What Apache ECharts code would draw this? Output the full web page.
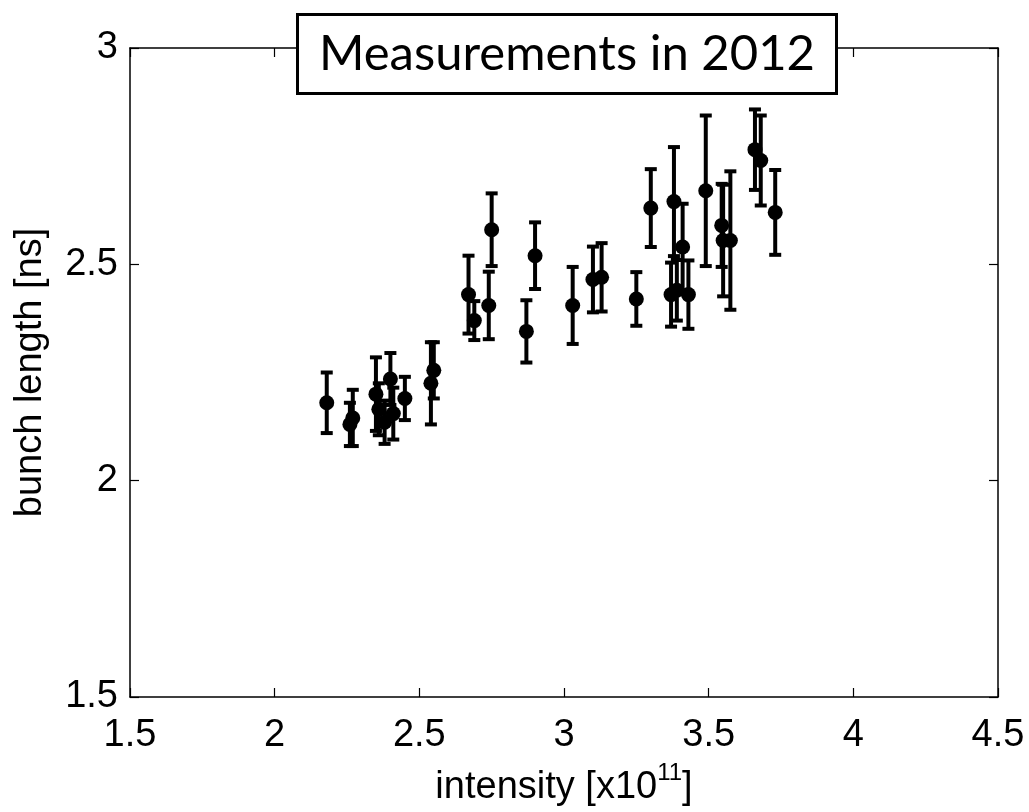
<!DOCTYPE html>
<html>
<head>
<meta charset="utf-8">
<script src="https://cdn.jsdelivr.net/npm/echarts@6/dist/echarts.min.js"></script>
<style>html,body{margin:0;padding:0;background:#fff;}#c{width:1029px;height:812px;}</style>
</head>
<body>
<div id="c"></div>
<script>
// intensity [x10^11]
const intensity = [2.18, 2.26, 2.27, 2.35, 2.36, 2.38, 2.40, 2.41, 2.45, 2.54, 2.55,
  2.67, 2.69, 2.74, 2.75, 2.87, 2.90, 3.03, 3.10, 3.13, 3.25, 3.30, 3.37, 3.38,
  3.39, 3.41, 3.43, 3.49, 3.545, 3.55, 3.575, 3.66, 3.68, 3.73];
// bunch length [ns]
const bunchLength = [2.18, 2.13, 2.145, 2.20, 2.165, 2.135, 2.235, 2.155, 2.19, 2.225, 2.255,
  2.43, 2.37, 2.405, 2.58, 2.345, 2.52, 2.405, 2.465, 2.47, 2.42, 2.63, 2.43, 2.645,
  2.44, 2.54, 2.43, 2.67, 2.59, 2.555, 2.555, 2.765, 2.74, 2.62];
// error (half length of error bar) [ns]
const bunchErr = [0.07, 0.05, 0.065, 0.085, 0.06, 0.05, 0.06, 0.06, 0.05, 0.095, 0.065,
  0.09, 0.045, 0.078, 0.084, 0.072, 0.077, 0.089, 0.076, 0.079, 0.062, 0.09, 0.074, 0.126,
  0.07, 0.1, 0.079, 0.174, 0.096, 0.129, 0.16, 0.093, 0.104, 0.098];
const xTicks = [1.5, 2, 2.5, 3, 3.5, 4, 4.5];
const yTicks = [1.5, 2, 2.5, 3];
const titleText = 'Measurements in 2012';

const pts = intensity.map((x, i) => [x, bunchLength[i], bunchErr[i]]);

const chart = echarts.init(document.getElementById('c'), null, {renderer: 'canvas'});
const axisFont = 'Liberation Sans';
const lbl = v => String(v);
chart.setOption({
  animation: false,
  backgroundColor: '#fff',
  title: {
    text: titleText,
    left: 297, top: 14,
    padding: [13, 22, 13, 22],
    backgroundColor: '#fff',
    borderColor: '#000',
    borderWidth: 3,
    textStyle: {fontFamily: 'Lato', fontSize: 49, fontWeight: 'normal', color: '#000', lineHeight: 54},
    z: 10
  },
  grid: {left: 130, right: 31, top: 48, bottom: 112, show: false},
  xAxis: [{
    type: 'value', min: 1.5, max: 4.5, interval: 0.5, position: 'bottom',
    name: '{n|intensity [x10}{s|11}{n|]}',
    nameLocation: 'middle', nameGap: 64,
    nameTextStyle: {rich: {
      n: {fontFamily: axisFont, fontSize: 38, color: '#000', lineHeight: 46, verticalAlign: 'bottom'},
      s: {fontFamily: axisFont, fontSize: 24, color: '#000', lineHeight: 46, verticalAlign: 'top'}
    }},
    axisLine: {show: true, lineStyle: {color: '#000', width: 1.5}},
    axisTick: {show: true, inside: true, length: 9, lineStyle: {color: '#000', width: 1.2}},
    axisLabel: {fontFamily: axisFont, fontSize: 38, color: '#000', margin: 20, formatter: lbl},
    splitLine: {show: false}
  }, {
    type: 'value', min: 1.5, max: 4.5, interval: 0.5, position: 'top',
    axisLine: {show: true, lineStyle: {color: '#000', width: 1.5}},
    axisTick: {show: true, inside: true, length: 9, lineStyle: {color: '#000', width: 1.2}},
    axisLabel: {show: false}, splitLine: {show: false}
  }],
  yAxis: [{
    type: 'value', min: 1.5, max: 3, interval: 0.5, position: 'left',
    name: 'bunch length [ns]', nameLocation: 'middle', nameGap: 80, nameRotate: 90,
    nameTextStyle: {fontFamily: axisFont, fontSize: 38, color: '#000'},
    axisLine: {show: true, lineStyle: {color: '#000', width: 1.5}},
    axisTick: {show: true, inside: true, length: 9, lineStyle: {color: '#000', width: 1.2}},
    axisLabel: {fontFamily: axisFont, fontSize: 38, color: '#000', margin: 12, formatter: lbl},
    splitLine: {show: false}
  }, {
    type: 'value', min: 1.5, max: 3, interval: 0.5, position: 'right',
    axisLine: {show: true, lineStyle: {color: '#000', width: 1.5}},
    axisTick: {show: true, inside: true, length: 9, lineStyle: {color: '#000', width: 1.2}},
    axisLabel: {show: false}, splitLine: {show: false}
  }],
  series: [{
    type: 'custom',
    xAxisIndex: 0, yAxisIndex: 0,
    data: pts,
    renderItem: function (params, api) {
      const x = api.value(0), y = api.value(1), e = api.value(2);
      const t = api.coord([x, y + e]);
      const b = api.coord([x, y - e]);
      const h = 6;
      const st = {stroke: '#000', lineWidth: 4};
      return {type: 'group', children: [
        {type: 'line', shape: {x1: t[0], y1: t[1], x2: b[0], y2: b[1]}, style: st},
        {type: 'line', shape: {x1: t[0] - h, y1: t[1], x2: t[0] + h, y2: t[1]}, style: st},
        {type: 'line', shape: {x1: b[0] - h, y1: b[1], x2: b[0] + h, y2: b[1]}, style: st}
      ]};
    },
    z: 2
  }, {
    type: 'scatter',
    xAxisIndex: 0, yAxisIndex: 0,
    data: pts.map(p => [p[0], p[1]]),
    symbol: 'circle', symbolSize: 15,
    itemStyle: {color: '#000', opacity: 1},
    z: 3
  }]
});
</script>
</body>
</html>
